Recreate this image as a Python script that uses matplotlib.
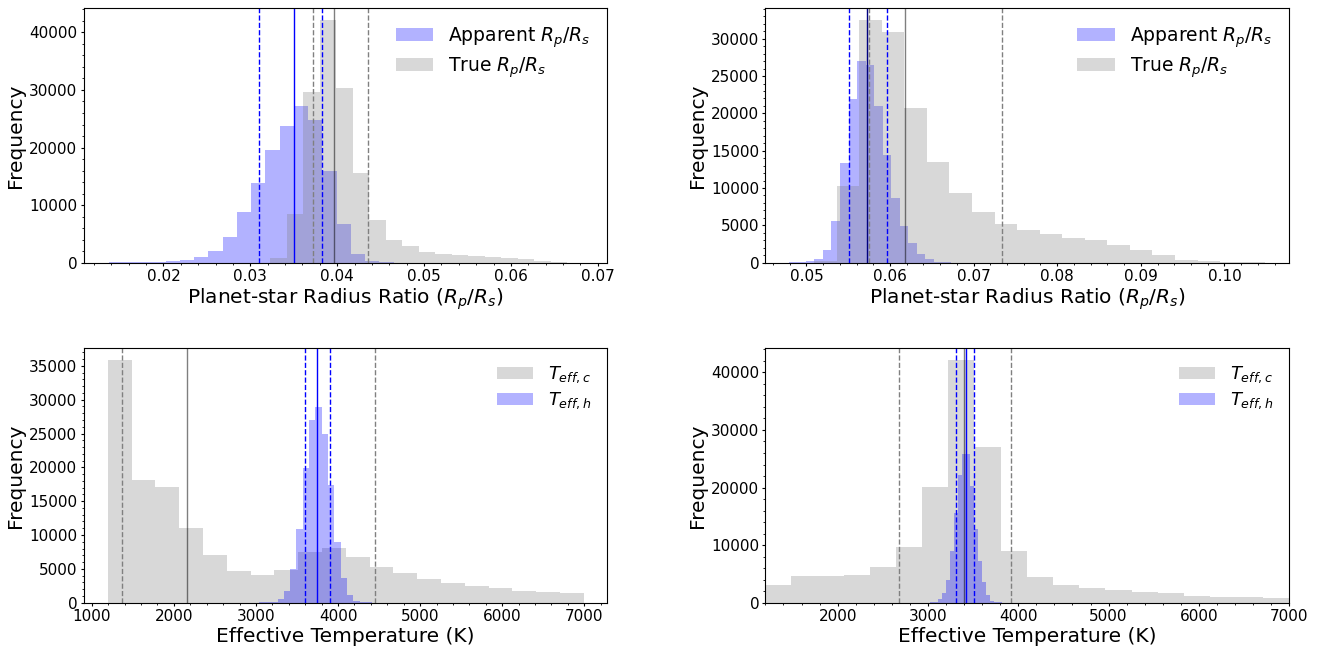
import matplotlib
matplotlib.use("Agg")
import matplotlib.pyplot as plt
import numpy as np

# --- top-left: radius ratio, case 1 ---
rr1_app_range = (0.0137, 0.0465)
rr1_app_counts = [100, 100, 150, 200, 250, 500, 1000, 2000, 4450, 8800,
                  13800, 19500, 23700, 27200, 24700, 15900, 6700, 1500, 300, 100]
rr1_true_range = (0.0323, 0.0684)
rr1_true_counts = [900, 8440, 29600, 42080, 30400, 15660, 7400, 3930, 2890, 1900,
                   1500, 1330, 1160, 980, 810, 640, 290, 60, 20]
rr1_app_lines = {"lo": 0.0310, "med": 0.0350, "hi": 0.0383}
rr1_true_lines = {"lo": 0.03725, "med": 0.0396, "hi": 0.0436}

# --- top-right: radius ratio, case 2 ---
rr2_app_range = (0.0479, 0.0683)
rr2_app_counts = [30, 60, 180, 490, 1700, 5630, 13320, 21950, 27040, 26500,
                  21000, 14440, 8630, 4920, 2590, 1160, 490, 150, 50, 20]
rr2_true_range = (0.0509, 0.1049)
rr2_true_counts = [250, 10280, 32450, 30890, 20700, 13450, 9300, 6790, 5190, 4380,
                   3800, 3310, 3040, 2370, 1700, 1030, 360, 220, 130, 50]
rr2_app_lines = {"lo": 0.05515, "med": 0.05722, "hi": 0.05966}
rr2_true_lines = {"lo": 0.05754, "med": 0.06182, "hi": 0.07339}

# --- bottom-left: effective temperature, case 1 ---
t1_c_range = (1195, 6995)
t1_c_counts = [35800, 18100, 17120, 11020, 7040, 4720, 4080, 4820, 7480, 8020,
               6690, 5215, 4380, 3440, 2900, 2460, 2165, 1770, 1575, 1380]
t1_h_range = (2955, 4495)
t1_h_counts = [20, 50, 100, 150, 540, 1770, 4920, 10870, 19830, 26960,
               28930, 24900, 17370, 9000, 3690, 1130, 250, 120, 60, 30]
t1_c_lines = {"lo": 1373, "med": 2164, "hi": 4454}
t1_h_lines = {"lo": 3594, "med": 3744, "hi": 3898}

# --- bottom-right: effective temperature, case 2 ---
t2_c_range = (1195, 6995)
t2_c_counts = [3060, 4620, 4620, 4800, 6180, 9710, 20110, 42080, 27050, 9020,
               4510, 3060, 2600, 2200, 1790, 1620, 1160, 1040, 1040, 750]
t2_h_range = (2975, 3861)
t2_h_counts = [20, 60, 200, 580, 1620, 3930, 9020, 15660, 22200, 25890,
               25780, 20290, 12770, 7280, 3530, 1330, 290, 100, 50, 20]
t2_c_lines = {"lo": 2674, "med": 3395, "hi": 3923}
t2_h_lines = {"lo": 3306, "med": 3417, "hi": 3509}


def hist_from_counts(ax, value_range, counts, color, label):
    edges = np.linspace(value_range[0], value_range[1], len(counts) + 1)
    ax.hist(edges[:-1], bins=edges, weights=counts, color=color, alpha=0.3, label=label)


def add_lines(ax, lines, color, med_color=None, med_alpha=1.0):
    ax.axvline(lines["lo"], color=color, ls="--", lw=1)
    ax.axvline(lines["hi"], color=color, ls="--", lw=1)
    ax.axvline(lines["med"], color=med_color or color, ls="-", lw=1, alpha=med_alpha)


def style(ax, xlabel, xlim, legend_size):
    ax.set_xlim(*xlim)
    ax.set_xlabel(xlabel, fontsize=14.5, labelpad=2)
    ax.set_ylabel("Frequency", fontsize=14.5, labelpad=3)
    ax.minorticks_on()
    ax.tick_params(which="major", labelsize=11, length=2.2, pad=2.2)
    ax.tick_params(which="minor", length=1.3)
    ax.legend(loc="upper right", frameon=False, fontsize=legend_size, labelspacing=0.3)


fig, axes = plt.subplots(2, 2, figsize=(13.32, 6.48), dpi=100)
fig.subplots_adjust(left=0.0627, right=0.9679, top=0.9872, bottom=0.0699,
                    wspace=0.3016, hspace=0.3365)
rr_label = r"Planet-star Radius Ratio ($R_p/R_s$)"
t_label = "Effective Temperature (K)"

ax = axes[0, 0]
hist_from_counts(ax, rr1_app_range, rr1_app_counts, "blue", r"Apparent $R_p/R_s$")
hist_from_counts(ax, rr1_true_range, rr1_true_counts, "gray", r"True $R_p/R_s$")
add_lines(ax, rr1_app_lines, "blue")
add_lines(ax, rr1_true_lines, "gray", med_color="k", med_alpha=0.5)
style(ax, rr_label, (0.0108, 0.0711), 13.5)

ax = axes[0, 1]
hist_from_counts(ax, rr2_app_range, rr2_app_counts, "blue", r"Apparent $R_p/R_s$")
hist_from_counts(ax, rr2_true_range, rr2_true_counts, "gray", r"True $R_p/R_s$")
add_lines(ax, rr2_true_lines, "gray", med_color="k", med_alpha=0.5)
add_lines(ax, rr2_app_lines, "blue", med_color="navy")
style(ax, rr_label, (0.04509, 0.10776), 13.5)

ax = axes[1, 0]
hist_from_counts(ax, t1_c_range, t1_c_counts, "gray", r"$T_{eff,c}$")
hist_from_counts(ax, t1_h_range, t1_h_counts, "blue", r"$T_{eff,h}$")
add_lines(ax, t1_c_lines, "gray", med_color="k", med_alpha=0.5)
add_lines(ax, t1_h_lines, "blue")
style(ax, t_label, (900, 7281), 13)

ax = axes[1, 1]
hist_from_counts(ax, t2_c_range, t2_c_counts, "gray", r"$T_{eff,c}$")
hist_from_counts(ax, t2_h_range, t2_h_counts, "blue", r"$T_{eff,h}$")
add_lines(ax, t2_c_lines, "gray", med_color="k", med_alpha=0.5)
add_lines(ax, t2_h_lines, "blue")
style(ax, t_label, (1200, 7000), 13)

fig.savefig("out.png", dpi=100)
